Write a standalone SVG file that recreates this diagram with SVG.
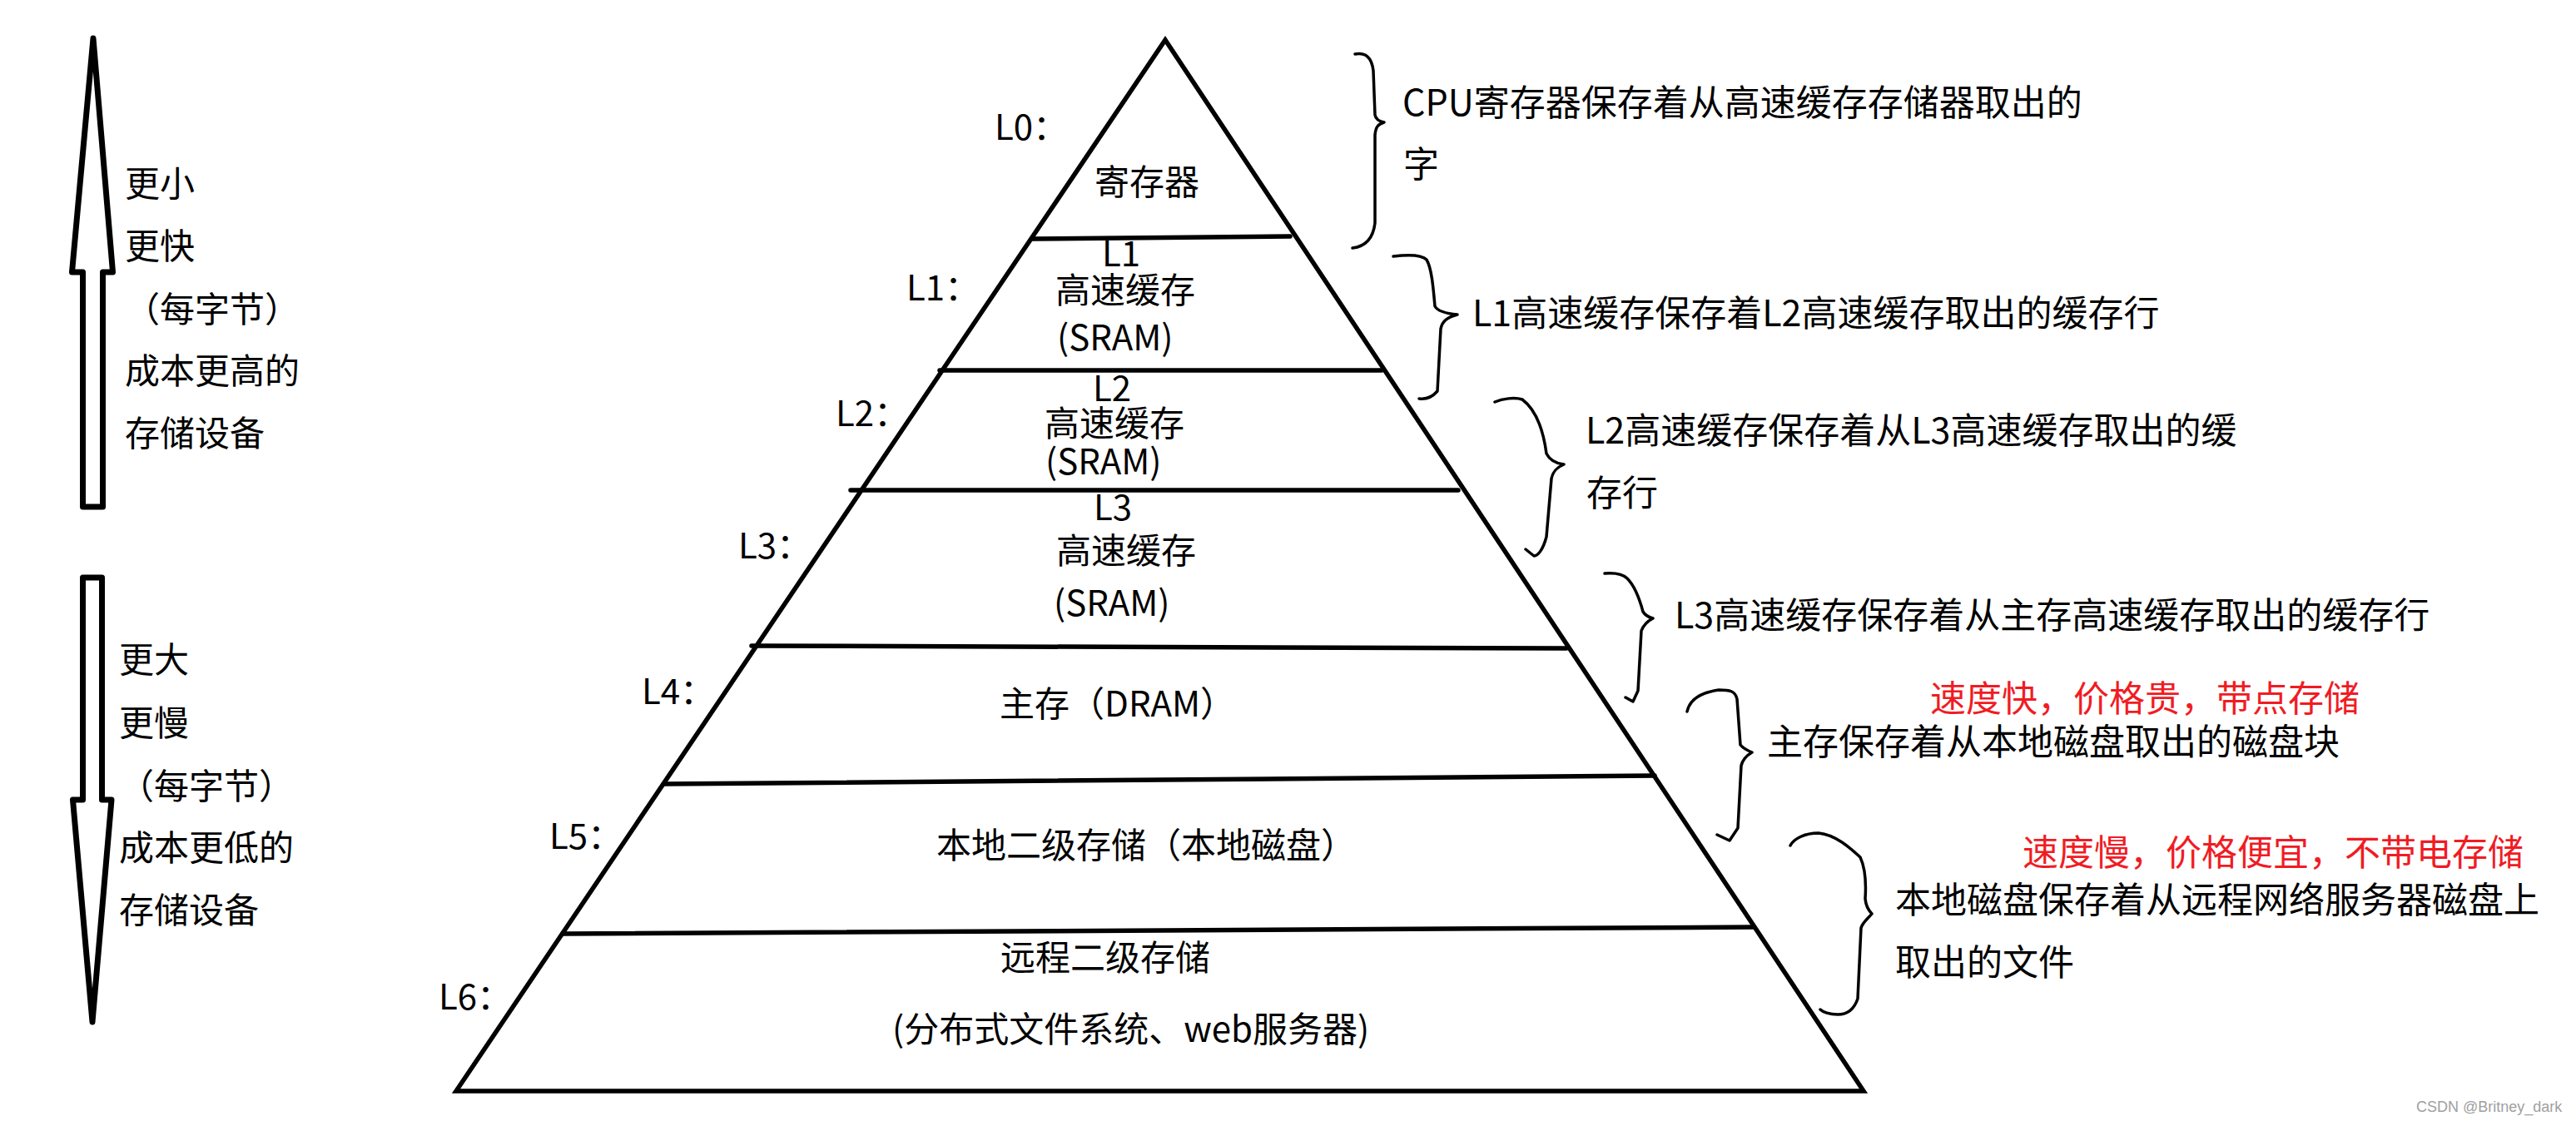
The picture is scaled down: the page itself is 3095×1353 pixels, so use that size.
<svg xmlns="http://www.w3.org/2000/svg" width="3095" height="1353" viewBox="0 0 3095 1353">
<style>
  text { font-family: "Noto Sans CJK SC", "Noto Sans", sans-serif; font-size: 42px; fill: #000; }
  .note { font-size: 43px; }
  .red { fill: #f01c24; }
  .wm { font-family: "Liberation Sans", "Noto Sans", sans-serif; font-size: 18px; fill: #a0a0a0; }
  .arrow { fill: #fff; stroke: #000; stroke-width: 7; stroke-linejoin: round; }
  .edge { fill: none; stroke: #000; stroke-width: 5.5; stroke-linecap: round; }
  .brace { fill: none; stroke: #000; stroke-width: 3.5; stroke-linecap: round; stroke-linejoin: round; }
</style>
<rect width="3095" height="1353" fill="#fff"/>

<g id="arrow-up">
  <polygon class="arrow" points="112,46 135.5,327 123.5,327 123.5,609 99.5,609 99.5,327 86.5,327"/>
  <text x="150" y="236">更小</text>
  <text x="150" y="311">更快</text>
  <text x="150" y="387">（每字节）</text>
  <text x="150" y="461">成本更高的</text>
  <text x="150" y="536">存储设备</text>
</g>

<g id="arrow-down">
  <polygon class="arrow" points="99.5,694 122.5,694 122.5,961 134,961 111,1228 87.5,961 99.5,961"/>
  <text x="143" y="808">更大</text>
  <text x="143" y="884">更慢</text>
  <text x="143" y="960">（每字节）</text>
  <text x="143" y="1034">成本更低的</text>
  <text x="143" y="1109">存储设备</text>
</g>

<g id="pyramid">
  <path class="edge" d="M548,1311 L1400,48 L2239,1311 Z"/>
  <line class="edge" x1="1241" y1="287" x2="1550" y2="284"/>
  <line class="edge" x1="1129" y1="445" x2="1660" y2="445"/>
  <line class="edge" x1="1022" y1="589" x2="1752" y2="589"/>
  <line class="edge" x1="903" y1="776" x2="1882" y2="779"/>
  <line class="edge" x1="798" y1="942" x2="1988" y2="932"/>
  <line class="edge" x1="676" y1="1122" x2="2106" y2="1114"/>
</g>

<g id="L0">
  <text x="1195" y="168">L0：</text>
  <text x="1315" y="234">寄存器</text>
</g>
<g id="L1">
  <text x="1089" y="361">L1：</text>
  <text x="1324" y="320">L1</text>
  <text x="1268" y="364">高速缓存</text>
  <text x="1270" y="421">(SRAM)</text>
</g>
<g id="L2">
  <text x="1004" y="512">L2：</text>
  <text x="1313" y="482">L2</text>
  <text x="1255" y="524">高速缓存</text>
  <text x="1256" y="570">(SRAM)</text>
</g>
<g id="L3">
  <text x="887" y="671">L3：</text>
  <text x="1314" y="625">L3</text>
  <text x="1269" y="677">高速缓存</text>
  <text x="1266" y="740">(SRAM)</text>
</g>
<g id="L4">
  <text x="771" y="846">L4：</text>
  <text x="1201" y="861">主存（DRAM）</text>
</g>
<g id="L5">
  <text x="660" y="1020">L5：</text>
  <text x="1125" y="1031">本地二级存储（本地磁盘）</text>
</g>
<g id="L6">
  <text x="527" y="1213">L6：</text>
  <text x="1202" y="1166">远程二级存储</text>
  <text x="1072" y="1252">(分布式文件系统、web服务器)</text>
</g>

<g id="connectors">
  <path class="brace" d="M1628,65 C1640,63 1648,68 1650,85 L1652,138 C1653,144 1658,146 1663,147 C1656,149 1653,152 1652,162 L1652,268 C1650,285 1642,296 1625,298"/>
  <path class="brace" d="M1674,308 C1690,306 1708,306 1714,312 C1720,322 1722,345 1724,368 C1728,375 1740,377 1751,378 C1740,381 1733,385 1731,395 L1727,470 C1720,478 1712,480 1705,479"/>
  <path class="brace" d="M1796,483 C1805,479 1820,477 1829,480 C1845,492 1854,515 1858,545 C1862,553 1870,557 1879,558 C1872,561 1866,565 1864,575 L1858,645 C1854,660 1848,668 1843,668 L1833,660"/>
  <path class="brace" d="M1928,689 C1940,688 1950,690 1955,695 C1965,705 1970,720 1974,735 C1977,740 1982,742 1986,743 C1980,746 1975,750 1972,758 L1968,830 L1962,843 L1953,838"/>
  <path class="brace" d="M2027,855 C2030,840 2045,832 2065,829 C2078,829 2085,830 2087,840 L2091,895 C2095,900 2100,902 2105,904 C2098,908 2094,912 2092,920 L2088,995 L2078,1010 L2063,1003"/>
  <path class="brace" d="M2151,1016 C2155,1008 2168,1001 2185,1001 C2205,1003 2222,1018 2235,1030 C2242,1045 2242,1065 2241,1080 C2242,1090 2246,1095 2249,1098 C2244,1104 2238,1108 2236,1115 L2232,1200 C2228,1212 2220,1219 2208,1219 C2198,1219 2190,1216 2187,1213"/>
</g>

<g id="note-L0">
  <text class="note" x="1685" y="139">CPU寄存器保存着从高速缓存存储器取出的</text>
  <text class="note" x="1686" y="213">字</text>
</g>
<g id="note-L1">
  <text class="note" x="1769" y="392">L1高速缓存保存着L2高速缓存取出的缓存行</text>
</g>
<g id="note-L2">
  <text class="note" x="1905" y="533">L2高速缓存保存着从L3高速缓存取出的缓</text>
  <text class="note" x="1906" y="608">存行</text>
</g>
<g id="note-L3">
  <text class="note" x="2012" y="755">L3高速缓存保存着从主存高速缓存取出的缓存行</text>
</g>
<g id="note-L4">
  <text class="note red" x="2319" y="855">速度快，价格贵，带点存储</text>
  <text class="note" x="2123" y="907">主存保存着从本地磁盘取出的磁盘块</text>
</g>
<g id="note-L5">
  <text class="note red" x="2430" y="1040">速度慢，价格便宜，不带电存储</text>
  <text class="note" x="2277" y="1097">本地磁盘保存着从远程网络服务器磁盘上</text>
  <text class="note" x="2277" y="1172">取出的文件</text>
</g>
<text class="wm" x="2903" y="1336">CSDN @Britney_dark</text>
</svg>
